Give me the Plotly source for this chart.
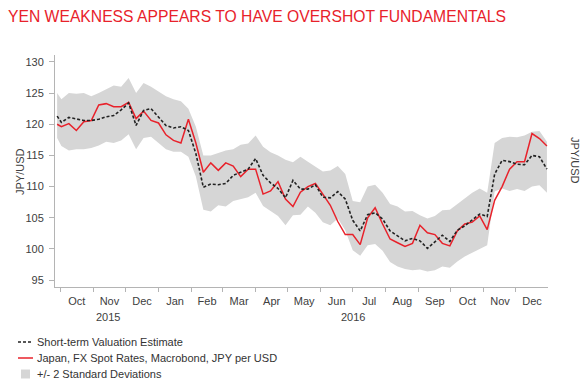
import plotly.graph_objects as go

dates = [
    "2015-09-28", "2015-10-02", "2015-10-09", "2015-10-16", "2015-10-23", "2015-10-30",
    "2015-11-06", "2015-11-13", "2015-11-20", "2015-11-27", "2015-12-04", "2015-12-11",
    "2015-12-18", "2015-12-25", "2016-01-01", "2016-01-08", "2016-01-15", "2016-01-22",
    "2016-01-29", "2016-02-05", "2016-02-12", "2016-02-19", "2016-02-26", "2016-03-04",
    "2016-03-11", "2016-03-18", "2016-03-25", "2016-04-01", "2016-04-08", "2016-04-15",
    "2016-04-22", "2016-04-29", "2016-05-06", "2016-05-13", "2016-05-20", "2016-05-27",
    "2016-06-03", "2016-06-10", "2016-06-17", "2016-06-24", "2016-07-01", "2016-07-08",
    "2016-07-15", "2016-07-22", "2016-07-29", "2016-08-05", "2016-08-12", "2016-08-19",
    "2016-08-26", "2016-09-02", "2016-09-09", "2016-09-16", "2016-09-23", "2016-09-30",
    "2016-10-07", "2016-10-14", "2016-10-21", "2016-10-28", "2016-11-04", "2016-11-11",
    "2016-11-18", "2016-11-25", "2016-12-02", "2016-12-09", "2016-12-16", "2016-12-23",
    "2016-12-30",
]

spot = [
    120.0, 119.6, 120.1, 119.0, 120.4, 120.6,
    123.1, 123.3, 122.8, 122.8, 123.5, 120.9,
    122.1, 120.6, 120.2, 118.3, 117.4, 117.0,
    120.8, 117.0, 112.3, 113.8, 112.6, 113.8,
    113.3, 111.6, 112.8, 112.8, 108.8, 109.3,
    110.8, 108.0, 106.8, 109.1, 110.0, 110.5,
    108.8, 107.0, 104.4, 102.3, 102.3, 100.7,
    105.0, 106.6, 104.0, 101.6, 101.0, 100.4,
    100.9, 103.8, 102.6, 102.3, 100.9, 100.5,
    102.9, 104.0, 104.3, 105.3, 103.1, 107.8,
    110.0, 112.8, 114.0, 114.0, 118.5, 117.7,
    116.5,
]

estimate = [
    121.3, 120.3, 121.1, 120.8, 120.6, 120.6,
    120.8, 121.2, 121.4, 122.3, 123.4, 119.8,
    122.2, 122.5, 121.2, 119.8, 119.4, 119.6,
    119.0, 115.3, 109.9, 110.4, 110.3, 110.5,
    111.8, 112.3, 112.8, 114.5, 111.8, 110.6,
    109.7, 108.2, 111.0, 109.6, 109.6, 110.3,
    108.3, 108.2, 109.2, 108.0, 104.6, 102.9,
    105.5, 105.8, 104.8, 102.9, 102.1, 101.3,
    101.7, 101.3, 100.1, 101.1, 102.2, 101.2,
    103.0, 103.7, 104.7, 105.6, 105.2, 112.0,
    114.2, 114.0, 113.6, 113.5, 115.0, 114.8,
    112.8,
]

band_upper = [
    125.0, 124.0, 125.0, 124.9, 125.0, 124.5,
    125.0, 125.6, 126.2, 126.0, 127.4, 125.0,
    126.6, 126.0, 125.2, 124.5, 124.0, 123.7,
    122.5, 119.6, 115.0, 115.0, 115.4, 115.8,
    116.0, 116.7, 116.9, 118.2, 116.4, 115.5,
    115.0, 114.3, 113.9, 114.8, 114.0, 113.2,
    112.4, 112.6, 113.3, 112.0, 107.7, 107.5,
    110.0, 110.3, 109.0, 107.2, 106.8, 106.0,
    106.1, 105.4, 104.9, 105.3, 106.2, 106.3,
    107.2, 108.0, 109.0, 109.7, 109.0, 117.0,
    117.8, 118.0, 117.9, 118.2, 118.8, 118.9,
    117.2,
]

band_lower = [
    117.8, 116.5, 115.8, 116.0, 116.0, 116.2,
    116.6, 117.2, 117.0, 117.4, 118.4, 116.0,
    117.8, 118.0, 117.0, 116.0, 115.6, 115.6,
    114.8, 111.6, 106.3, 106.0, 107.0, 106.8,
    107.7, 108.0, 108.3, 109.0, 106.9, 106.1,
    105.3, 103.8, 105.4, 105.5, 106.8, 105.8,
    104.3, 103.8, 104.9, 103.0, 99.8, 98.9,
    100.6, 100.8, 99.7, 97.9, 97.2, 96.8,
    96.6, 96.7, 96.4, 96.6, 97.2, 97.0,
    98.0, 98.8, 99.4, 100.0, 100.6, 109.2,
    109.7, 109.3, 109.6, 109.3, 110.0, 110.2,
    109.0,
]

y_ticks = [95, 100, 105, 110, 115, 120, 125, 130]
year_labels = [("2015-11-15", "2015"), ("2016-07-01", "2016")]
legend_labels = [
    "Short-term Valuation Estimate",
    "Japan, FX Spot Rates, Macrobond, JPY per USD",
    "+/- 2 Standard Deviations",
]

TITLE = "YEN WEAKNESS APPEARS TO HAVE OVERSHOT FUNDAMENTALS"
RED = "#e8222b"
BLACK = "#222222"
GRAY_BAND = "#d6d6d6"
AXIS = "#b4b4b4"
TXT = "#404040"
FONT = "Liberation Sans, Arial, sans-serif"

W, H = 582, 388
ML, MR, MT, MB = 55, 34, 55, 101
PW, PH = W - ML - MR, H - MT - MB


def px(xp):
    return (xp - ML) / PW


def py(yp):
    return (H - MB - yp) / PH


fig = go.Figure()

fig.add_trace(go.Scatter(
    x=dates, y=band_lower, mode="lines", line=dict(width=0, color=GRAY_BAND),
    showlegend=False, hoverinfo="skip",
))
fig.add_trace(go.Scatter(
    x=dates, y=band_upper, mode="lines", line=dict(width=0, color=GRAY_BAND),
    fill="tonexty", fillcolor=GRAY_BAND, name=legend_labels[2], showlegend=False,
))
fig.add_trace(go.Scatter(
    x=dates, y=spot, mode="lines", line=dict(color=RED, width=1.5),
    name=legend_labels[1], showlegend=False,
))
fig.add_trace(go.Scatter(
    x=dates, y=estimate, mode="lines",
    line=dict(color=BLACK, width=1.6, dash="3px,2px"),
    name=legend_labels[0], showlegend=False,
))

yr = [93.9, 131.1]
axis_common = dict(
    ticks="outside", tickcolor=AXIS, showline=True, linecolor=AXIS, linewidth=1,
    showgrid=False, zeroline=False, automargin=False,
    tickfont=dict(family=FONT, size=11, color=TXT),
)

fig.update_layout(
    template="none",
    width=W, height=H,
    margin=dict(l=ML, r=MR, t=MT, b=MB, autoexpand=False),
    paper_bgcolor="white", plot_bgcolor="white",
    font=dict(family=FONT, size=11, color=TXT),
    title=dict(text=TITLE, x=8 / W, xanchor="left", y=1 - 17 / H, yanchor="middle",
               font=dict(family=FONT, size=15.7, color=RED)),
    showlegend=False,
    xaxis=dict(
        range=["2015-09-26", "2016-12-31"],
        tickmode="linear", tick0="2015-10-01", dtick="M1",
        tickformat="%b", ticklabelmode="period", ticklen=4,
        **axis_common,
    ),
    yaxis=dict(range=yr, tickvals=y_ticks, ticklen=5, ticklabelstandoff=3, **axis_common),
    yaxis2=dict(range=yr, tickvals=y_ticks, ticklen=5, ticklabelstandoff=2,
                overlaying="y", side="right", **axis_common),
)

# axis titles
fig.add_annotation(text="JPY/USD", x=px(20), xref="paper", y=py(172), yref="paper",
                   textangle=-90, showarrow=False, xanchor="center", yanchor="middle",
                   font=dict(family=FONT, size=11, color=TXT))
fig.add_annotation(text="JPY/USD", x=px(575), xref="paper", y=py(160), yref="paper",
                   textangle=90, showarrow=False, xanchor="center", yanchor="middle",
                   font=dict(family=FONT, size=11, color=TXT))
# year labels
for xd, lab in year_labels:
    fig.add_annotation(text=lab, x=xd, xref="x", y=py(317), yref="paper",
                       showarrow=False, xanchor="center", yanchor="middle",
                       font=dict(family=FONT, size=11, color=TXT))

# legend (drawn manually)
leg_y = [342, 358, 374]
fig.add_shape(type="line", xref="paper", yref="paper", x0=px(18), x1=px(33),
              y0=py(leg_y[0]), y1=py(leg_y[0]), line=dict(color=BLACK, width=1.4, dash="3px,2px"))
fig.add_shape(type="line", xref="paper", yref="paper", x0=px(18), x1=px(33),
              y0=py(leg_y[1]), y1=py(leg_y[1]), line=dict(color=RED, width=1.5))
fig.add_shape(type="rect", xref="paper", yref="paper", x0=px(21), x1=px(30),
              y0=py(leg_y[2] - 4.5), y1=py(leg_y[2] + 4.5), line=dict(width=0),
              fillcolor=GRAY_BAND)
for ly, lab in zip(leg_y, legend_labels):
    fig.add_annotation(text=lab, x=px(35), xref="paper", y=py(ly), yref="paper",
                       showarrow=False, xanchor="left", yanchor="middle",
                       font=dict(family=FONT, size=11, color="#333333"))

fig.write_html("out.html", config={"displayModeBar": False},
               post_script="document.body.style.margin='0px';")
